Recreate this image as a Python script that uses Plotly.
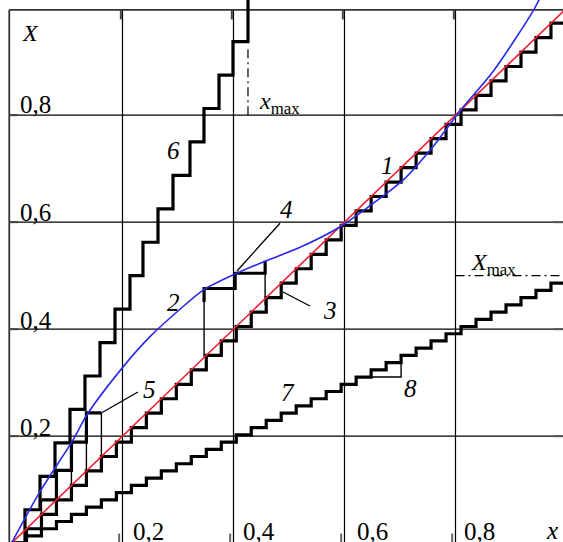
import plotly.graph_objects as go

# ---------------- data ----------------
# curve 1 : linear characteristic X = x
curve1_x = [0.0, 1.0]
curve1_X = [0.0, 1.0]

# curve 2 : nonlinear characteristic
curve2_x = [0.0, 0.05, 0.111, 0.136, 0.2015, 0.2495, 0.300, 0.3468, 0.4027,
            0.4568, 0.520, 0.590, 0.650, 0.706, 0.760, 0.808, 0.868, 0.941, 0.955]
curve2_X = [0.0, 0.094, 0.193, 0.240, 0.330, 0.386, 0.434, 0.474, 0.503,
            0.527, 0.553, 0.590, 0.634, 0.679, 0.742, 0.808, 0.882, 0.997, 1.025]

# staircases 3 and 7 : step positions along x
stair_x = [0.000, 0.027, 0.054, 0.081, 0.108, 0.135, 0.162, 0.189, 0.216, 0.243,
           0.270, 0.297, 0.324, 0.351, 0.378, 0.405, 0.432, 0.459, 0.486, 0.513,
           0.540, 0.567, 0.594, 0.621, 0.648, 0.675, 0.702, 0.729, 0.756, 0.783,
           0.810, 0.837, 0.864, 0.891, 0.918, 0.945, 0.972, 0.999]
# staircase 3 : levels
stair3_X = [0.000, 0.027, 0.054, 0.081, 0.108, 0.135, 0.162, 0.189, 0.216, 0.243,
            0.270, 0.297, 0.324, 0.351, 0.378, 0.405, 0.432, 0.459, 0.486, 0.513,
            0.540, 0.567, 0.594, 0.621, 0.648, 0.675, 0.702, 0.729, 0.756, 0.783,
            0.810, 0.837, 0.864, 0.891, 0.918, 0.945, 0.972, 0.999]
# staircase 7 : levels
stair7_X = [0.0000, 0.0135, 0.0270, 0.0405, 0.0540, 0.0675, 0.0810, 0.0945, 0.1080, 0.1215,
            0.1350, 0.1485, 0.1620, 0.1755, 0.1890, 0.2025, 0.2160, 0.2295, 0.2430, 0.2565,
            0.2700, 0.2835, 0.2970, 0.3105, 0.3240, 0.3375, 0.3510, 0.3645, 0.3780, 0.3915,
            0.4050, 0.4185, 0.4320, 0.4455, 0.4590, 0.4725, 0.4860, 0.4995]

# staircase 6 : risers and levels
stair6_x = [0.0, 0.0243, 0.0514, 0.0784, 0.1054, 0.1324, 0.1595, 0.1865, 0.2135,
            0.2369, 0.2640, 0.2910, 0.3216, 0.3468, 0.3739, 0.3991, 0.4261]
stair6_X = [0.0, 0.0625, 0.125, 0.1875, 0.25, 0.3125, 0.375, 0.4375, 0.5,
            0.5625, 0.625, 0.6875, 0.75, 0.8125, 0.875, 0.9375, 1.06]

# steps of the nonlinear quantiser (near origin, label 5) and (label 4)
q5_x = [0.054, 0.081, 0.108, 0.135, 0.162]
q5_X = [0.081, 0.136, 0.189, 0.2436, 0.2436]
q4_x = [0.347, 0.403, 0.457, 0.457]
q4_X = [0.451, 0.476, 0.5045, 0.528]
drop_x = [0.054, 0.081, 0.108, 0.135, 0.162, 0.347, 0.457]
drop_top = [0.081, 0.081, 0.136, 0.189, 0.2436, 0.451, 0.5045]
drop_bot = [0.027, 0.054, 0.081, 0.108, 0.135, 0.348, 0.445]

# step 8 (triangle on staircase 7)
tri8_x = [0.648, 0.702, 0.702]
tri8_X = [0.3105, 0.3105, 0.3375]

# limits
xmax_value = 0.4261
xmax_span = [0.80, 0.93]
Xmax_value = 0.5
Xmax_span = [0.80, 1.0]

grid_vals = [0.2, 0.4, 0.6, 0.8]
tick_text = ["0,2", "0,4", "0,6", "0,8"]

# ---------------- figure ----------------
XR = [-0.0207, 0.9937]
YR = [0.0022, 1.0153]
LEFT = -0.004
TOP = 0.997
BLACK = "#000000"
THICK = 3.2

fig = go.Figure()

# thin drop lines
dx_, dy_ = [], []
for x, t, b in zip(drop_x, drop_top, drop_bot):
    dx_ += [x, x, None]
    dy_ += [b, t, None]
fig.add_trace(go.Scatter(x=dx_, y=dy_, mode="lines",
                         line=dict(color=BLACK, width=1.4)))

fig.add_trace(go.Scatter(x=tri8_x, y=tri8_X, mode="lines",
                         line=dict(color=BLACK, width=1.4)))

# staircases
for xs, ys, shp in [(stair_x, stair3_X, "hv"), (stair_x, stair7_X, "hv"),
                    (stair6_x, stair6_X, "hv"), (q5_x, q5_X, "hv"),
                    (q4_x, q4_X, "vh")]:
    fig.add_trace(go.Scatter(x=xs, y=ys, mode="lines",
                             line=dict(color=BLACK, width=THICK, shape=shp)))

# curves 1 and 2
fig.add_trace(go.Scatter(x=curve1_x, y=curve1_X, mode="lines",
                         line=dict(color="#f02030", width=1.6)))
fig.add_trace(go.Scatter(x=curve2_x, y=curve2_X, mode="lines",
                         line=dict(color="#2a2ae6", width=1.6, shape="spline",
                                   smoothing=0.8)))

# dash-dot limit lines
fig.add_trace(go.Scatter(x=[xmax_value, xmax_value], y=xmax_span, mode="lines",
                         line=dict(color=BLACK, width=1.2, dash="9px,4px,2px,4px")))
fig.add_trace(go.Scatter(x=Xmax_span, y=[Xmax_value, Xmax_value], mode="lines",
                         line=dict(color=BLACK, width=1.2, dash="9px,4px,2px,4px")))

shapes = []
# grid
for v in grid_vals:
    shapes.append(dict(type="line", xref="x", yref="y", x0=v, x1=v, y0=YR[0], y1=TOP,
                       line=dict(color=BLACK, width=1.2), layer="below"))
    shapes.append(dict(type="line", xref="x", yref="y", x0=LEFT, x1=XR[1], y0=v, y1=v,
                       line=dict(color=BLACK, width=1.2), layer="below"))
# frame
shapes.append(dict(type="line", xref="x", yref="y", x0=LEFT, x1=LEFT, y0=YR[0], y1=TOP,
                   line=dict(color="#333", width=1.8), layer="below"))
shapes.append(dict(type="line", xref="x", yref="y", x0=LEFT, x1=XR[1], y0=TOP, y1=TOP,
                   line=dict(color="#333", width=1.8), layer="below"))
# small frame ticks
for v in grid_vals:
    shapes.append(dict(type="line", xref="x", yref="y", x0=v - 0.003, x1=v - 0.003,
                       y0=TOP, y1=TOP - 0.018, line=dict(color="#444", width=2), layer="below"))
    shapes.append(dict(type="line", xref="x", yref="y", x0=v - 0.006, x1=v - 0.006,
                       y0=YR[0], y1=0.018, line=dict(color="#666", width=2), layer="below"))
    shapes.append(dict(type="line", xref="x", yref="y", x0=LEFT, x1=0.012,
                       y0=v, y1=v, line=dict(color="#444", width=2), layer="below"))
    shapes.append(dict(type="line", xref="x", yref="y", x0=0.978, x1=XR[1],
                       y0=v, y1=v, line=dict(color="#555", width=2), layer="below"))
# leader lines
for (x0, y0, x1, y1) in [(0.4063, 0.5088, 0.4838, 0.5981),
                         (0.1625, 0.2439, 0.2279, 0.2826),
                         (0.4892, 0.4695, 0.5378, 0.4434)]:
    shapes.append(dict(type="line", xref="x", yref="y", x0=x0, y0=y0, x1=x1, y1=y1,
                       line=dict(color=BLACK, width=1.3)))

FONT = "Liberation Serif"
ann = []
def label(text, x, y, size=25, xanchor="center"):
    ann.append(dict(text=text, x=x, y=y, xref="x", yref="y", showarrow=False,
                    xanchor=xanchor, yanchor="middle",
                    font=dict(family=FONT, size=size, color=BLACK)))

for v, t, yc in zip(grid_vals, tick_text, [0.2153, 0.4153, 0.6190, 0.8191]):
    label(t, 0.0441, yc)
for xc, t in zip([0.2468, 0.4468, 0.6505, 0.8441], tick_text):
    label(t, xc, 0.021)
label("<i>x</i>", 0.9739, 0.024)
label("<i>X</i>", 0.0351, 0.9537, size=24)
label("<i>1</i>", 0.6766, 0.7051)
label("<i>2</i>", 0.2910, 0.4508)
label("<i>3</i>", 0.5739, 0.4340)
label("<i>4</i>", 0.4946, 0.6228)
label("<i>5</i>", 0.2495, 0.2864)
label("<i>6</i>", 0.2928, 0.7331)
label("<i>7</i>", 0.4982, 0.2808)
label("<i>8</i>", 0.7198, 0.2882)
label("<i>x</i><sub>max</sub>", 0.4423, 0.822, size=24, xanchor="left")
label("<i>X</i><sub>max</sub>", 0.8243, 0.522, size=24, xanchor="left")

fig.update_layout(
    width=563, height=542, margin=dict(l=0, r=0, t=0, b=0),
    paper_bgcolor="white", plot_bgcolor="white", showlegend=False,
    shapes=shapes, annotations=ann,
    xaxis=dict(range=XR, showgrid=False, zeroline=False, showticklabels=False,
               showline=False, fixedrange=True),
    yaxis=dict(range=YR, showgrid=False, zeroline=False, showticklabels=False,
               showline=False, fixedrange=True),
)

fig.write_html("out.html", config={"displayModeBar": False, "staticPlot": True},
               post_script="document.body.style.margin='0';document.body.style.overflow='hidden';")
